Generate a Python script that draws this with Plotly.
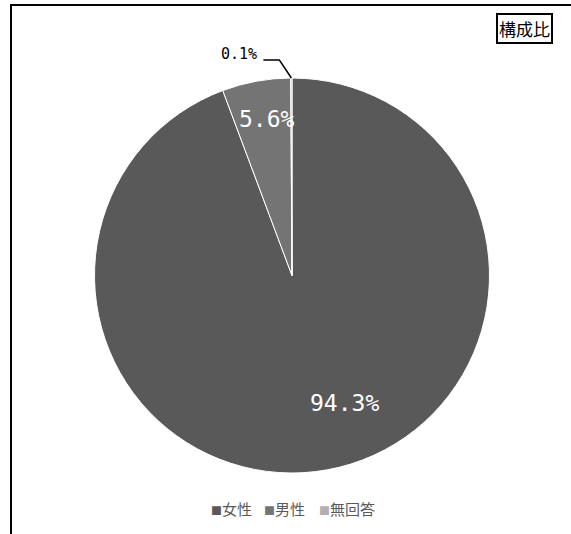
import math
import plotly.graph_objects as go

# 回答者の性別構成比
categories = ["女性", "男性", "無回答"]
shares = [94.3, 5.6, 0.1]
colors = ["#595959", "#747474", "#b0b0b0"]

W, H = 571, 534
FONT = "Noto Sans CJK JP"
NUM_FONT = "DejaVu Sans Mono"

# pie geometry in pixels
cx, cy, r = 292, 275.5, 197.5


def px(x):
    return x / W


def py(y):
    return 1 - y / H


fig = go.Figure(
    go.Pie(
        labels=categories,
        values=shares,
        sort=False,
        direction="clockwise",
        rotation=0,
        marker=dict(colors=colors, line=dict(color="white", width=1)),
        textinfo="none",
        hoverinfo="label+percent",
        showlegend=False,
        domain=dict(x=[px(cx - r), px(cx + r)], y=[py(cy + r), py(cy - r)]),
    )
)

annotations = []
# labels for the two large slices, placed inside the slices
inside_pos = {"女性": (344.5, 403), "男性": (266.5, 119.5)}
for cat, val in zip(categories, shares):
    if cat in inside_pos:
        x, y = inside_pos[cat]
        annotations.append(dict(
            x=px(x), y=py(y), xref="paper", yref="paper",
            xanchor="center", yanchor="middle",
            text=f"{val:.1f}%", showarrow=False,
            font=dict(family=NUM_FONT, size=23, color="white"),
        ))

# leader line and label for the smallest slice
start = sum(shares[:2]) / sum(shares) * 360
mid = math.radians(start + shares[2] / sum(shares) * 180)
ex, ey = cx + r * math.sin(mid), cy - r * math.cos(mid)
elbow_x, elbow_y = ex - 12, 60
end_x = elbow_x - 16
shapes = [
    dict(type="path", xref="paper", yref="paper",
         path=f"M {px(ex)} {py(ey)} L {px(elbow_x)} {py(elbow_y)} L {px(end_x)} {py(elbow_y)}",
         line=dict(color="black", width=1.5)),
]
annotations.append(dict(
    x=px(end_x - 4), y=py(elbow_y - 6), xref="paper", yref="paper",
    xanchor="right", yanchor="middle", text=f"{shares[2]:.1f}%", showarrow=False,
    font=dict(family=NUM_FONT, size=15, color="black"),
))

# title box
annotations.append(dict(
    x=px(524.5), y=py(28.5), xref="paper", yref="paper",
    xanchor="center", yanchor="middle",
    text="構成比", showarrow=False,
    font=dict(family=FONT, size=17, color="black"),
    bordercolor="black", borderwidth=2, borderpad=1,
))

# legend row below the pie
legend_x = [209, 262, 317]
for cat, col, lx in zip(categories, colors, legend_x):
    annotations.append(dict(
        x=px(lx), y=py(508), xref="paper", yref="paper",
        xanchor="left", yanchor="middle", showarrow=False,
        text=f"<span style='color:{col};font-size:11px'>■</span>{cat}",
        font=dict(family=FONT, size=15, color="#595959"),
    ))

# outer frame
shapes.append(dict(type="rect", xref="paper", yref="paper",
                   x0=px(11), x1=px(W + 10), y0=py(H + 10), y1=py(5),
                   line=dict(color="black", width=2), layer="above"))

fig.update_layout(
    width=W, height=H,
    margin=dict(l=0, r=0, t=0, b=0),
    paper_bgcolor="white", plot_bgcolor="white",
    font=dict(family=FONT),
    showlegend=False,
    annotations=annotations,
    shapes=shapes,
)

fig.write_html("out.html")
